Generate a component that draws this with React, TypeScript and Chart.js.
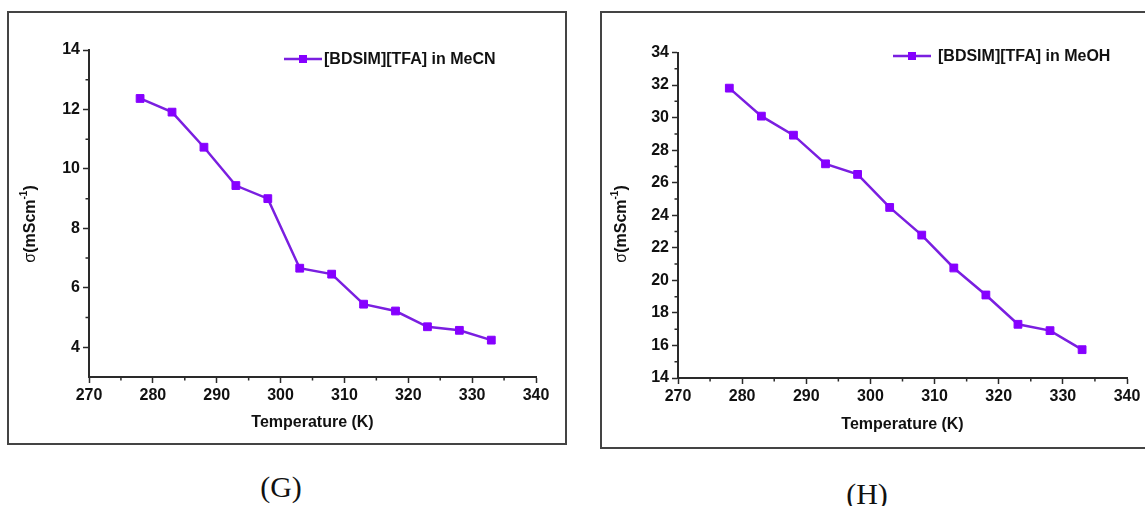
import React, { useEffect, useRef } from "react";
import { Chart, registerables } from "chart.js";

Chart.register(...registerables);

// Temperatures (K) at which conductivity was measured
const TEMPERATURES = [278, 283, 288, 293, 298, 303, 308, 313, 318, 323, 328, 333];

// Conductivity σ (mS cm⁻¹) of [BDSIM][TFA] in acetonitrile
const MECN_SIGMA = [12.37, 11.91, 10.73, 9.44, 9.0, 6.66, 6.46, 5.45, 5.22, 4.69, 4.57, 4.24];

// Conductivity σ (mS cm⁻¹) of [BDSIM][TFA] in methanol
const MEOH_SIGMA = [31.81, 30.09, 28.92, 27.16, 26.51, 24.48, 22.78, 20.76, 19.1, 17.3, 16.91, 15.74];

// Axis tick labels
const X_TICKS = [270, 280, 290, 300, 310, 320, 330, 340];
const MECN_Y_TICKS = [4, 6, 8, 10, 12, 14];
const MEOH_Y_TICKS = [14, 16, 18, 20, 22, 24, 26, 28, 30, 32, 34];

const MECN_LABEL = "[BDSIM][TFA] in MeCN";
const MEOH_LABEL = "[BDSIM][TFA] in MeOH";
const X_TITLE = "Temperature (K)";

const FONT = '"Liberation Sans", Arial, sans-serif';
const FONT_SIZE = 16;
const LINE_COLOR = "#7a1fe0";
const POINT_COLOR = "#8600ff";
const AXIS_COLOR = "#2a2a2a";
const TEXT_COLOR = "#111111";

type Layout = {
  left: number;
  top: number;
  width: number;
  height: number;
  yAxisWidth: number;
  xAxisHeight: number;
  padTop: number;
  padRight: number;
  legendDx: number;
  legendDy: number;
  legendGap: number;
  yTitleX: number;
  yTitleY: number;
  xTitleDy: number;
};

type PanelProps = {
  values: number[];
  yMin: number;
  yMax: number;
  yTicks: number[];
  label: string;
  layout: Layout;
};

function Panel({ values, yMin, yMax, yTicks, label, layout }: PanelProps) {
  const ref = useRef<HTMLCanvasElement | null>(null);

  useEffect(() => {
    if (!ref.current) return;

    const decorations = {
      id: "decorations",
      afterDraw(chart: any) {
        const { ctx, chartArea, scales } = chart;
        const xs = scales.x;
        const ys = scales.y;
        ctx.save();

        // minor tick marks halfway between labelled ticks
        ctx.strokeStyle = AXIS_COLOR;
        ctx.lineWidth = 1.5;
        ctx.beginPath();
        for (let i = 0; i < X_TICKS.length - 1; i++) {
          const px = xs.getPixelForValue((X_TICKS[i] + X_TICKS[i + 1]) / 2);
          ctx.moveTo(px, chartArea.bottom);
          ctx.lineTo(px, chartArea.bottom + 3.5);
        }
        for (let i = 0; i < yTicks.length - 1; i++) {
          const py = ys.getPixelForValue((yTicks[i] + yTicks[i + 1]) / 2);
          ctx.moveTo(chartArea.left, py);
          ctx.lineTo(chartArea.left - 3.5, py);
        }
        ctx.stroke();

        // legend: line with a square marker, then the series name
        const lx = chartArea.left + layout.legendDx;
        const ly = chartArea.top + layout.legendDy;
        ctx.strokeStyle = LINE_COLOR;
        ctx.lineWidth = 2.5;
        ctx.beginPath();
        ctx.moveTo(lx, ly);
        ctx.lineTo(lx + 38, ly);
        ctx.stroke();
        ctx.fillStyle = POINT_COLOR;
        ctx.fillRect(lx + 19 - 4, ly - 4, 8, 8);
        ctx.fillStyle = TEXT_COLOR;
        ctx.font = `bold ${FONT_SIZE}px ${FONT}`;
        ctx.textBaseline = "middle";
        ctx.textAlign = "left";
        ctx.fillText(label, lx + 38 + layout.legendGap, ly + 1);

        // x-axis title
        ctx.textAlign = "center";
        ctx.fillText(X_TITLE, (chartArea.left + chartArea.right) / 2, chartArea.bottom + layout.xTitleDy);

        // y-axis title: σ(mScm⁻¹), rotated
        ctx.translate(layout.yTitleX, layout.yTitleY);
        ctx.rotate(-Math.PI / 2);
        ctx.textAlign = "left";
        const parts = [
          { t: "σ", font: `${FONT_SIZE}px ${FONT}`, dy: 0 },
          { t: "(mScm", font: `bold ${FONT_SIZE}px ${FONT}`, dy: 0 },
          { t: "-1", font: `bold 10px ${FONT}`, dy: -7 },
          { t: ")", font: `bold ${FONT_SIZE}px ${FONT}`, dy: 0 },
        ];
        let total = 0;
        const widths = parts.map((p) => {
          ctx.font = p.font;
          const w = ctx.measureText(p.t).width;
          total += w;
          return w;
        });
        let cx = -total / 2;
        parts.forEach((p, i) => {
          ctx.font = p.font;
          ctx.fillText(p.t, cx, p.dy + 1);
          cx += widths[i];
        });
        ctx.restore();
      },
    };

    const tickFont = { family: FONT, size: FONT_SIZE, weight: "bold" as const };

    const chart = new Chart(ref.current, {
      type: "line",
      data: {
        datasets: [
          {
            label,
            data: TEMPERATURES.map((t, i) => ({ x: t, y: values[i] })),
            borderColor: LINE_COLOR,
            borderWidth: 2.5,
            pointStyle: "rect",
            pointRadius: 5.5,
            pointBackgroundColor: POINT_COLOR,
            pointBorderColor: POINT_COLOR,
            pointBorderWidth: 1,
            tension: 0,
            fill: false,
          },
        ],
      },
      options: {
        animation: false,
        responsive: false,
        layout: {
          padding: { left: 0, right: layout.padRight, top: layout.padTop, bottom: 0 },
        },
        plugins: {
          legend: { display: false },
          tooltip: { enabled: false },
        },
        scales: {
          x: {
            type: "linear",
            min: 270,
            max: 340,
            afterBuildTicks: (s: any) => {
              s.ticks = X_TICKS.map((v) => ({ value: v }));
            },
            afterFit: (s: any) => {
              s.height = layout.xAxisHeight;
            },
            ticks: {
              font: tickFont,
              color: TEXT_COLOR,
              padding: 3,
              maxRotation: 0,
              autoSkip: false,
            },
            grid: {
              display: true,
              drawOnChartArea: false,
              drawTicks: true,
              tickLength: 6,
              tickColor: AXIS_COLOR,
              tickWidth: 1.5,
            },
            border: { display: true, color: AXIS_COLOR, width: 2 },
          },
          y: {
            type: "linear",
            min: yMin,
            max: yMax,
            afterBuildTicks: (s: any) => {
              s.ticks = yTicks.map((v) => ({ value: v }));
            },
            afterFit: (s: any) => {
              s.width = layout.yAxisWidth;
            },
            ticks: {
              font: tickFont,
              color: TEXT_COLOR,
              padding: 3,
              autoSkip: false,
            },
            grid: {
              display: true,
              drawOnChartArea: false,
              drawTicks: true,
              tickLength: 6,
              tickColor: AXIS_COLOR,
              tickWidth: 1.5,
            },
            border: { display: true, color: AXIS_COLOR, width: 2 },
          },
        },
      },
      plugins: [decorations],
    });

    return () => chart.destroy();
  }, [values, yMin, yMax, yTicks, label, layout]);

  return (
    <canvas
      ref={ref}
      width={layout.width}
      height={layout.height}
      style={{
        position: "absolute",
        left: layout.left,
        top: layout.top,
        width: layout.width,
        height: layout.height,
      }}
    />
  );
}

const LEFT_LAYOUT: Layout = {
  left: 12,
  top: 16,
  width: 548,
  height: 424,
  yAxisWidth: 77,
  xAxisHeight: 63,
  padTop: 34,
  padRight: 24,
  legendDx: 195,
  legendDy: 9,
  legendGap: 2,
  yTitleX: 18,
  yTitleY: 208,
  xTitleDy: 46,
};

const RIGHT_LAYOUT: Layout = {
  left: 605,
  top: 15,
  width: 540,
  height: 429,
  yAxisWidth: 73,
  xAxisHeight: 66,
  padTop: 37.5,
  padRight: 18,
  legendDx: 215,
  legendDy: 3.5,
  legendGap: 7,
  yTitleX: 16,
  yTitleY: 209,
  xTitleDy: 47,
};

const frame = (left: number, top: number, width: number, height: number): React.CSSProperties => ({
  position: "absolute",
  left,
  top,
  width,
  height,
  boxSizing: "border-box",
  border: "2px solid #444",
});

const caption = (x: number, y: number): React.CSSProperties => ({
  position: "absolute",
  left: x - 40,
  top: y - 18,
  width: 80,
  height: 36,
  lineHeight: "36px",
  textAlign: "center",
  fontFamily: '"Liberation Serif", "Times New Roman", serif',
  fontSize: 30,
  color: "#111",
});

export default function App() {
  return (
    <div
      style={{
        position: "absolute",
        left: 0,
        top: 0,
        width: 1145,
        height: 506,
        background: "#fff",
        overflow: "hidden",
      }}
    >
      <div style={frame(7, 11, 560, 434)} />
      <div style={frame(600, 11, 600, 438)} />
      <Panel
        values={MECN_SIGMA}
        yMin={3}
        yMax={14}
        yTicks={MECN_Y_TICKS}
        label={MECN_LABEL}
        layout={LEFT_LAYOUT}
      />
      <Panel
        values={MEOH_SIGMA}
        yMin={14}
        yMax={34}
        yTicks={MEOH_Y_TICKS}
        label={MEOH_LABEL}
        layout={RIGHT_LAYOUT}
      />
      <div style={caption(281, 487)}>(G)</div>
      <div style={caption(867, 494)}>(H)</div>
    </div>
  );
}
